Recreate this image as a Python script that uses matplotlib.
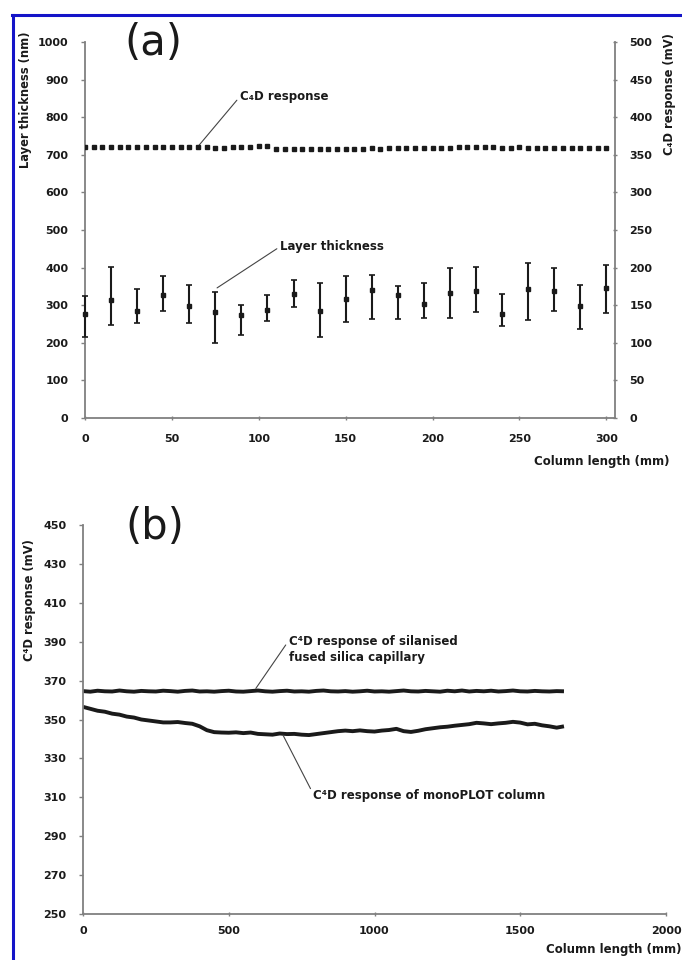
import matplotlib.pyplot as plt
from matplotlib.lines import Line2D

# Шрифт: широкий гротеск, полужирный, как в исходной картинке
plt.rcParams['font.family'] = ['DejaVu Sans']
plt.rcParams['font.weight'] = 'bold'
plt.rcParams['font.size'] = 8

# ---------------- данные (a) ----------------
# отклик C4D вдоль колонки (мВ), шаг 5 мм
c4d_x = list(range(0, 305, 5))
c4d_mv = [360.5, 360.5, 360.3, 360.5, 360.4, 360.5, 360.3, 360.5, 360.4, 360.5,
          360.3, 360.4, 360.5, 360.4, 360.2, 359.3, 359.0, 360.0, 361.0, 360.0,
          361.5, 361.2, 358.2, 358.0, 358.3, 358.0, 358.2, 358.0, 358.1, 358.3,
          358.0, 358.2, 358.3, 358.4, 358.3, 358.5, 358.6, 358.5, 358.8, 358.7,
          359.0, 359.2, 359.0, 360.2, 361.0, 359.8, 360.5, 360.8, 359.6, 359.5,
          359.8, 359.6, 359.5, 359.7, 359.6, 359.5, 359.6, 359.5, 359.6, 359.5,
          359.6]

# толщина слоя (нм): среднее, верх и низ отрезка погрешности
layer_x = list(range(0, 315, 15))
layer_nm = [276, 313, 284, 328, 298, 282, 273, 286, 331, 284, 316,
            340, 327, 303, 333, 337, 277, 342, 338, 298, 346]
layer_hi = [324, 402, 344, 378, 355, 335, 301, 328, 368, 359, 378,
            380, 351, 358, 399, 402, 329, 411, 400, 353, 406]
layer_lo = [216, 247, 252, 284, 253, 200, 221, 257, 294, 216, 255,
            262, 262, 267, 267, 282, 246, 260, 284, 236, 280]

# ---------------- данные (b) ----------------
col_x = list(range(0, 1675, 25))
silanised_mv = [364.6, 364.3, 364.8, 364.5, 364.4, 364.9, 364.5, 364.3, 364.7, 364.5,
                364.4, 364.8, 364.6, 364.3, 364.7, 364.9, 364.4, 364.5, 364.3, 364.6,
                364.8, 364.4, 364.3, 364.6, 364.9, 364.5, 364.3, 364.6, 364.8, 364.4,
                364.5, 364.3, 364.7, 364.9, 364.5, 364.4, 364.6, 364.3, 364.5, 364.8,
                364.4, 364.5, 364.3, 364.6, 364.9, 364.5, 364.4, 364.7, 364.5, 364.3,
                364.8, 364.5, 364.9, 364.4, 364.7, 364.5, 364.8, 364.4, 364.6, 364.9,
                364.5, 364.4, 364.7, 364.5, 364.4, 364.6, 364.5]
monoplot_mv = [356.5, 355.5, 354.5, 354.0, 353.0, 352.5, 351.5, 351.0, 350.0, 349.5,
               349.0, 348.5, 348.5, 348.7, 348.2, 347.8, 346.5, 344.5, 343.5, 343.3,
               343.2, 343.4, 343.0, 343.3, 342.6, 342.4, 342.2, 342.8, 342.5, 342.6,
               342.2, 342.0, 342.5, 343.0, 343.5, 344.0, 344.3, 344.0, 344.4, 344.0,
               343.8, 344.3, 344.6, 345.2, 344.0, 343.6, 344.2, 345.0, 345.5, 346.0,
               346.3, 346.8, 347.2, 347.6, 348.3, 348.0, 347.6, 348.0, 348.3, 348.8,
               348.4, 347.5, 347.8, 347.0, 346.5, 345.8, 346.5]

W, H = 682, 960
spine_col = '#808080'
ink = '#1a1a1a'
lead = dict(arrowstyle='-', lw=0.8, color='#444444', shrinkA=0, shrinkB=0)


def style(ax):
    for s in ax.spines.values():
        s.set_color(spine_col)
        s.set_linewidth(1.3)
    ax.tick_params(colors=spine_col, labelcolor=ink, width=1, length=3)
    ax.tick_params(axis='y', pad=9)
    ax.tick_params(axis='x', pad=10)


fig = plt.figure(figsize=(W / 100, H / 100), dpi=100)

# ---------------- панель (a) ----------------
ax1 = fig.add_axes([85 / W, 1 - 418 / H, 530 / W, 376 / H])
ax2 = ax1.twinx()
style(ax1)
style(ax2)
ax1.spines['top'].set_visible(False)
ax1.spines['right'].set_visible(False)
for s in ['top', 'left', 'bottom']:
    ax2.spines[s].set_visible(False)

ax1.set_xlim(0, 305)
ax1.set_ylim(0, 1000)
ax1.set_xticks(range(0, 350, 50))
ax1.set_yticks(range(0, 1100, 100))
ax1.tick_params(axis='x', direction='inout')
ax2.set_ylim(0, 500)
ax2.set_yticks(range(0, 550, 50))
ax2.tick_params(direction='inout', pad=9)

ax1.errorbar(layer_x, layer_nm,
             yerr=[[m - lo for m, lo in zip(layer_nm, layer_lo)],
                   [hi - m for m, hi in zip(layer_nm, layer_hi)]],
             fmt='s', ms=3, color=ink, ecolor=ink, elinewidth=1.5,
             capsize=2, capthick=1.2, clip_on=False, zorder=3)
ax2.plot(c4d_x, c4d_mv, 's', ms=3.3, color=ink, zorder=3)

ax1.annotate('C\u2084D response', xy=(65, 722), xytext=(89, 854),
             ha='left', va='center', fontsize=8.5, color=ink,
             arrowprops=dict(lead, relpos=(0, 0.5)))
ax1.annotate('Layer thickness', xy=(76, 346), xytext=(112, 455),
             ha='left', va='center', fontsize=8.5, color=ink,
             arrowprops=dict(lead, relpos=(0, 0.5)))

fig.text(26 / W, 1 - 100 / H, 'Layer thickness (nm)', rotation=90,
         ha='center', va='center', fontsize=8.3, color=ink)
fig.text(670 / W, 1 - 94 / H, 'C\u2084D response (mV)', rotation=90,
         ha='center', va='center', fontsize=8.3, color=ink)
fig.text(670 / W, 1 - 462 / H, 'Column length (mm)', ha='right',
         va='center', fontsize=8.5, color=ink)
fig.text(153 / W, 1 - 43 / H, '(a)', ha='center', va='center',
         fontsize=30, fontweight='normal', color=ink)

# ---------------- панель (b) ----------------
bx = fig.add_axes([83 / W, 1 - 914 / H, 583 / W, 389 / H])
style(bx)
bx.spines['top'].set_visible(False)
bx.spines['right'].set_visible(False)
bx.set_xlim(0, 2000)
bx.set_ylim(250, 450)
bx.set_xticks(range(0, 2500, 500))
bx.set_yticks(range(250, 470, 20))
bx.tick_params(axis='x', direction='inout', pad=7)

bx.plot(col_x, silanised_mv, color=ink, lw=2.8, solid_capstyle='butt')
bx.plot(col_x, monoplot_mv, color=ink, lw=2.8, solid_capstyle='butt')

bx.annotate('C\u2074D response of silanised\nfused silica capillary',
            xy=(593, 366), xytext=(705, 386), ha='left', va='center',
            fontsize=8.5, color=ink, linespacing=1.25,
            arrowprops=dict(lead, relpos=(0, 0.8)))
bx.annotate('C\u2074D response of monoPLOT column', xy=(686, 342),
            xytext=(790, 311), ha='left', va='center',
            fontsize=8.5, color=ink,
            arrowprops=dict(lead, relpos=(0, 0.6)))

fig.text(30 / W, 1 - 600 / H, 'C\u2074D response (mV)', rotation=90,
         ha='center', va='center', fontsize=8.3, color=ink)
fig.text(682 / W, 1 - 950 / H, 'Column length (mm)', ha='right',
         va='center', fontsize=8.5, color=ink)
fig.text(155 / W, 1 - 527 / H, '(b)', ha='center', va='center',
         fontsize=30, fontweight='normal', color=ink)

# синяя рамка сверху и слева
fig.add_artist(Line2D([12 / W, 1], [1 - 15 / H, 1 - 15 / H],
                      transform=fig.transFigure, color='#1414c8', lw=2.2))
fig.add_artist(Line2D([13 / W, 13 / W], [0, 1 - 15 / H],
                      transform=fig.transFigure, color='#1414c8', lw=2.2))

fig.savefig('out.png', dpi=100)
